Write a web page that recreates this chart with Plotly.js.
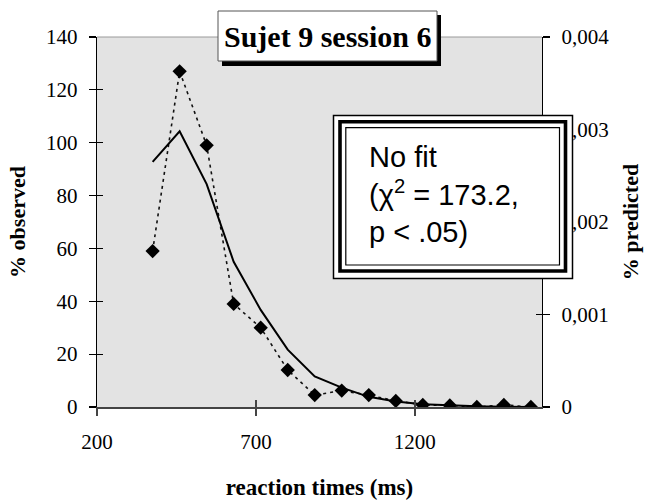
<!DOCTYPE html>
<html>
<head>
<meta charset="utf-8">
<script src="https://cdn.plot.ly/plotly-3.0.1.min.js"></script>
<style>html,body{margin:0;padding:0;background:#fff;}#chart{width:661px;height:500px;}</style>
</head>
<body>
<div id="chart"></div>
<script>
// ---- data ----
const reactionTimes = [375, 460, 545, 630, 715, 800, 885, 970, 1055, 1140, 1225, 1310, 1395, 1480, 1565];
const observedPct = [59, 127, 99, 39, 30, 14, 4.5, 6.2, 4.5, 2.3, 0.8, 0.6, 0, 0.8, 0];
const predictedPct = [0.00265, 0.00298, 0.00241, 0.00157, 0.00105, 0.00062, 0.00033, 0.00021, 0.00011, 0.00006, 0.00003, 0.000015, 0.000007, 0.000003, 0.000001];
const xTickVals = [200, 700, 1200];
const yLeftTickVals = [0, 20, 40, 60, 80, 100, 120, 140];
const yRightTickVals = [0, 0.001, 0.002, 0.003, 0.004];
const yRightTickText = ['0', '0,001', '0,002', '0,003', '0,004'];
const chartTitle = 'Sujet 9 session 6';
const fitText = 'No fit<br>(χ<sup>2</sup> = 173.2,<br>p < .05)';

// ---- layout helpers (pixel -> paper) ----
const L = 97, R = 542, T = 37, B = 407;
const px = v => (v - L) / (R - L);
const py = v => (B - v) / (B - T);

const serif = 'Liberation Serif, Times New Roman, serif';
const sans = 'Liberation Sans, Arial, sans-serif';

const traces = [
  {
    type: 'scatter', mode: 'lines+markers', name: '% observed',
    x: reactionTimes, y: observedPct, xaxis: 'x', yaxis: 'y',
    line: {color: '#111', width: 1.6, dash: '3px,4px'},
    marker: {symbol: 'diamond', size: 11, color: '#000'},
    showlegend: false, hoverinfo: 'x+y'
  },
  {
    type: 'scatter', mode: 'lines', name: '% predicted',
    x: reactionTimes, y: predictedPct, xaxis: 'x', yaxis: 'y2',
    line: {color: '#000', width: 2},
    showlegend: false, hoverinfo: 'x+y'
  },
  // empty traces that only carry the inside half of the crossing tick marks
  {type: 'scatter', x: [], y: [], xaxis: 'x2', yaxis: 'y', showlegend: false, hoverinfo: 'skip'},
  {type: 'scatter', x: [], y: [], xaxis: 'x', yaxis: 'y3', showlegend: false, hoverinfo: 'skip'},
  {type: 'scatter', x: [], y: [], xaxis: 'x', yaxis: 'y4', showlegend: false, hoverinfo: 'skip'}
];

const tickFont = {family: serif, size: 21, color: '#000'};
const titleFont = {family: serif, size: 22, color: '#000', weight: 'bold'};

const layout = {
  width: 661, height: 500,
  margin: {l: L, r: 661 - R, t: T, b: 500 - B, pad: 0},
  paper_bgcolor: '#ffffff', plot_bgcolor: '#e3e3e3',
  showlegend: false,
  xaxis: {
    range: [200, 1600], tickmode: 'array', tickvals: xTickVals,
    ticks: 'outside', ticklen: 7, tickwidth: 1.5, tickcolor: '#444',
    showline: true, linecolor: '#444', linewidth: 1.5,
    showgrid: false, zeroline: false, tickfont: tickFont, ticklabelstandoff: 8,
    title: {text: 'reaction times (ms)', font: {family: serif, size: 23, color: '#000', weight: 'bold'}, standoff: 34}
  },
  xaxis2: {
    overlaying: 'x', anchor: 'y', side: 'bottom', range: [200, 1600], tickmode: 'array', tickvals: xTickVals,
    ticks: 'inside', ticklen: 7, tickwidth: 1.5, tickcolor: '#444',
    showline: false, showgrid: false, zeroline: false, showticklabels: false
  },
  yaxis: {
    range: [0, 140], tickmode: 'array', tickvals: yLeftTickVals,
    ticks: 'outside', ticklen: 7, tickwidth: 1.2, tickcolor: '#000',
    showline: true, linecolor: '#000', linewidth: 1.3,
    showgrid: false, zeroline: false, tickfont: tickFont, ticklabelstandoff: 7,
    title: {text: '% observed', font: titleFont, standoff: 14}
  },
  yaxis2: {
    overlaying: 'y', side: 'right', anchor: 'x', range: [0, 0.004],
    tickmode: 'array', tickvals: yRightTickVals, ticktext: yRightTickText,
    ticks: 'outside', ticklen: 7, tickwidth: 1.2, tickcolor: '#000',
    showline: true, linecolor: '#000', linewidth: 1.3,
    showgrid: false, zeroline: false, tickfont: tickFont, ticklabelstandoff: 7,
    title: {text: '% predicted', font: titleFont, standoff: 14}
  },
  yaxis3: {
    overlaying: 'y', side: 'left', anchor: 'x', range: [0, 140], tickmode: 'array', tickvals: yLeftTickVals,
    ticks: 'inside', ticklen: 6, tickwidth: 1.2, tickcolor: '#000',
    showline: false, showgrid: false, zeroline: false, showticklabels: false
  },
  yaxis4: {
    overlaying: 'y', side: 'right', anchor: 'x', range: [0, 0.004], tickmode: 'array', tickvals: yRightTickVals,
    ticks: 'inside', ticklen: 6, tickwidth: 1.2, tickcolor: '#000',
    showline: false, showgrid: false, zeroline: false, showticklabels: false
  },
  shapes: [
    // top border of plot area
    {type: 'line', xref: 'paper', yref: 'paper', x0: 0, x1: 1, y0: 1, y1: 1, line: {color: '#9a9a9a', width: 1}},
    // title box shadow + box
    {type: 'rect', xref: 'paper', yref: 'paper', x0: px(222), x1: px(441), y0: py(66), y1: py(15), fillcolor: '#000', line: {width: 0}},
    {type: 'rect', xref: 'paper', yref: 'paper', x0: px(218), x1: px(437), y0: py(61), y1: py(11), fillcolor: '#fff', line: {color: '#555', width: 1}},
    // fit box: triple border
    {type: 'rect', xref: 'paper', yref: 'paper', x0: px(333.5), x1: px(572.5), y0: py(278.5), y1: py(115.5), fillcolor: '#fff', line: {color: '#000', width: 1.5}},
    {type: 'rect', xref: 'paper', yref: 'paper', x0: px(340), x1: px(565.5), y0: py(271), y1: py(121.7), line: {color: '#000', width: 3.6}},
    {type: 'rect', xref: 'paper', yref: 'paper', x0: px(345.8), x1: px(559.5), y0: py(265), y1: py(127.7), line: {color: '#000', width: 1.2}}
  ],
  annotations: [
    {xref: 'paper', yref: 'paper', x: px(327.5), y: py(36), xanchor: 'center', yanchor: 'middle',
     text: chartTitle, showarrow: false, font: {family: serif, size: 30, color: '#000', weight: 'bold'}},
    {xref: 'paper', yref: 'paper', x: px(367), y: py(194), xanchor: 'left', yanchor: 'middle', align: 'left',
     text: fitText, showarrow: false, font: {family: sans, size: 29, color: '#000'}}
  ]
};

Plotly.newPlot('chart', traces, layout, {staticPlot: true, displayModeBar: false});
</script>
</body>
</html>
